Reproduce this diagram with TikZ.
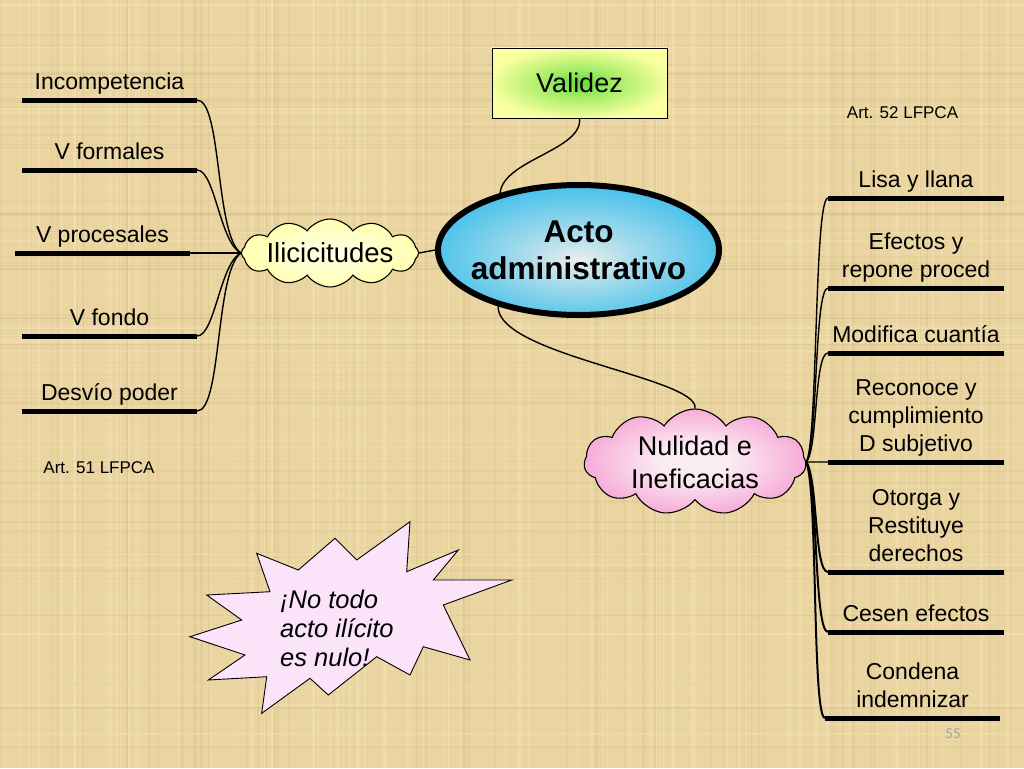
\documentclass[tikz,border=0pt]{standalone}
\usepackage{fontspec}
\setmainfont{Liberation Sans}
\newfontfamily\pagefont{Carlito}
\usetikzlibrary{shapes.geometric,shapes.symbols}
\definecolor{paper}{RGB}{234,212,160}
\definecolor{paperlight}{RGB}{248,232,190}
\definecolor{paperdark}{RGB}{200,175,120}
\definecolor{cyanout}{RGB}{40,185,235}
\definecolor{cyanin}{RGB}{236,238,236}
\definecolor{yelout}{RGB}{255,255,175}
\definecolor{yelin}{RGB}{255,255,235}
\definecolor{valyel}{RGB}{250,255,160}
\definecolor{valgreen}{RGB}{95,222,55}
\definecolor{pinkout}{RGB}{245,145,205}
\definecolor{pinkin}{RGB}{250,236,242}
\definecolor{starfill}{RGB}{251,228,250}
\definecolor{pagegray}{RGB}{160,160,160}
\pgfdeclareradialshading{valshade}{\pgfpoint{0bp}{0bp}}{color(0bp)=(valgreen); color(10bp)=(valgreen!55!valyel); color(26bp)=(valyel); color(50bp)=(valyel)}
\pgfdeclareradialshading{actoshade}{\pgfpoint{0bp}{-4bp}}{color(0bp)=(cyanin); color(10bp)=(cyanin!65!cyanout); color(32bp)=(cyanout); color(50bp)=(cyanout)}
\pgfdeclareradialshading{ilicshade}{\pgfpoint{0bp}{0bp}}{color(0bp)=(yelin); color(25bp)=(yelout); color(50bp)=(yelout)}
\pgfdeclareradialshading{nulshade}{\pgfpoint{0bp}{0bp}}{color(0bp)=(pinkin); color(8bp)=(pinkin); color(32bp)=(pinkout); color(50bp)=(pinkout)}
\tikzset{
  bar/.style={line width=5pt, line cap=butt},
  link/.style={line width=1.4pt},
  linkb/.style={line width=2pt},
  lbl/.style={anchor=south, inner sep=0pt, align=center, font=\fontsize{23}{28}\selectfont, execute at end node={\vphantom{p}}},
  art/.style={anchor=base, inner sep=0pt, font=\fontsize{17}{20}\selectfont},
}
\begin{document}
\begin{tikzpicture}[x=1pt,y=-1pt]
\fill[paper] (0,0) rectangle (1024,768);
\useasboundingbox (0,0) rectangle (1024,768);
% papyrus texture
\pgfmathsetseed{7}
\foreach \i in {1,...,90} {
  \pgfmathsetmacro\xx{rnd*1024}\pgfmathsetmacro\ww{0.5+rnd*2.5}
  \draw[paperlight, opacity=0.35, line width=\ww pt] (\xx,0) -- (\xx,768);
}
\foreach \i in {1,...,60} {
  \pgfmathsetmacro\xx{rnd*1024}\pgfmathsetmacro\ww{0.5+rnd*2}
  \draw[paperdark, opacity=0.18, line width=\ww pt] (\xx,0) -- (\xx,768);
}
\foreach \i in {1,...,70} {
  \pgfmathsetmacro\yy{rnd*768}\pgfmathsetmacro\ww{0.5+rnd*2}
  \draw[paperdark, opacity=0.15, line width=\ww pt] (0,\yy) -- (1024,\yy);
}
\foreach \i in {1,...,50} {
  \pgfmathsetmacro\yy{rnd*768}\pgfmathsetmacro\ww{0.5+rnd*2}
  \draw[paperlight, opacity=0.3, line width=\ww pt] (0,\yy) -- (1024,\yy);
}

% central nodes
\node[draw, line width=0.9pt, shading=valshade, minimum width=175pt, minimum height=70pt, inner sep=0pt,
      font=\fontsize{27}{30}\selectfont] (val) at (579.5,83) {Validez};
\node[ellipse, draw, line width=6pt, shading=actoshade, minimum width=281pt, minimum height=130pt, inner xsep=-9pt, inner ysep=0pt,
      align=center, font=\bfseries\fontsize{31.5}{37}\selectfont] (acto) at (578.5,250) {Acto\\administrativo};
\node[cloud, draw, line width=1.1pt, shading=ilicshade, cloud puffs=12, cloud puff arc=110, cloud ignores aspect,
      minimum width=176pt, minimum height=68pt, inner sep=0pt,
      font=\fontsize{27.5}{30}\selectfont] (ilic) at (330,253) {Ilicicitudes};
\node[cloud, draw, line width=1.1pt, shading=nulshade, cloud puffs=11, cloud puff arc=115, cloud ignores aspect,
      minimum width=222pt, minimum height=106pt, inner sep=0pt,
      align=center, font=\fontsize{27}{33}\selectfont] (nul) at (695,462) {Nulidad e\\Ineficacias};

\draw[link] (val.south) .. controls (583,150) and (503,160) .. (acto.144);
\draw[link] (acto.215) .. controls (497,355) and (700,378) .. (nul.north);
\draw[link] (ilic.east) -- (acto.west);

% left branches
\coordinate (incL) at (22,100);  \coordinate (incR) at (197,100);
\coordinate (vforL) at (22,170); \coordinate (vforR) at (197,170);
\coordinate (vproL) at (15,253); \coordinate (vproR) at (190,253);
\coordinate (vfonL) at (22,336); \coordinate (vfonR) at (197,336);
\coordinate (desvL) at (22,411); \coordinate (desvR) at (197,411);
\foreach \b in {inc,vfor,vpro,vfon,desv} {\draw[bar] (\b L) -- (\b R);}
\node[lbl] (tinc) at (109.5,94.8) {Incompetencia};
\node[lbl] (tvfor) at (109.5,164.8) {V formales};
\node[lbl] (tvpro) at (102.5,247.8) {V procesales};
\node[lbl] (tvfon) at (109.5,330.8) {V fondo};
\node[lbl] (tdesv) at (109.5,405.8) {Desvío poder};
\draw[link] (incR) .. controls (222,100) and (215,235) .. (ilic.west);
\draw[link] (vforR) .. controls (215,170) and (220,243) .. (ilic.west);
\draw[link] (vproR) -- (ilic.west);
\draw[link] (vfonR) .. controls (215,336) and (220,263) .. (ilic.west);
\draw[link] (desvR) .. controls (222,411) and (215,272) .. (ilic.west);
\node[art] (art51) at (99,473) {Art. 51 LFPCA};

% right branches
\coordinate (lisaL) at (828,198); \coordinate (lisaR) at (1004,198);
\coordinate (efecL) at (828,288); \coordinate (efecR) at (1004,288);
\coordinate (modiL) at (828,353); \coordinate (modiR) at (1004,353);
\coordinate (recoL) at (828,462); \coordinate (recoR) at (1004,462);
\coordinate (otorL) at (828,572); \coordinate (otorR) at (1004,572);
\coordinate (ceseL) at (828,632); \coordinate (ceseR) at (1004,632);
\coordinate (condL) at (825,718); \coordinate (condR) at (1000,718);
\foreach \b in {lisa,efec,modi,reco,otor,cese,cond} {\draw[bar] (\b L) -- (\b R);}
\node[lbl] (tlisa) at (916,192.8) {Lisa y llana};
\node[lbl] (tefec) at (916,282.8) {Efectos y\\repone proced};
\node[lbl] (tmodi) at (916,347.8) {Modifica cuantía};
\node[lbl] (treco) at (916,456.8) {Reconoce y\\cumplimiento\\D subjetivo};
\node[lbl] (totor) at (916,566.8) {Otorga y\\Restituye\\derechos};
\node[lbl] (tcese) at (916,626.8) {Cesen efectos};
\node[lbl] (tcond) at (912.5,712.8) {Condena\\indemnizar};
\draw[link] (nul.east) .. controls (818,440) and (814,198) .. (lisaL);
\draw[link] (nul.east) .. controls (818,445) and (814,288) .. (efecL);
\draw[link] (nul.east) .. controls (818,450) and (814,353) .. (modiL);
\draw[link] (nul.east) -- (recoL);
\draw[linkb] (nul.east) .. controls (818,480) and (814,572) .. (otorL);
\draw[linkb] (nul.east) .. controls (818,485) and (814,632) .. (ceseL);
\draw[linkb] (nul.east) .. controls (818,490) and (812,718) .. (condL);
\node[art] (art52) at (902.5,118) {Art. 52 LFPCA};

% starburst note
\draw[line width=0.9pt, fill=starfill, line join=miter]
  (256.7,553.3) -- (298.3,570) -- (335,538.3) -- (356.7,560) -- (410,521.7) -- (406.7,571.7)
  -- (458.3,550) -- (433.3,580) -- (511.7,580) -- (443.3,605) -- (470,660) -- (423.3,646.7)
  -- (410,675) -- (376.7,656.7) -- (328.3,695) -- (310,678.3) -- (261.7,713.3) -- (266.7,676.7)
  -- (208.3,680) -- (245,655) -- (190,636.7) -- (241.7,620) -- (206.7,595) -- (270,591.7) -- cycle;
\node[anchor=north west, inner sep=0pt, align=left, font=\itshape\fontsize{25.5}{29}\selectfont] (nota) at (280,590) {¡No todo\\acto ilícito\\es nulo!};

\node[anchor=base, inner sep=0pt, text=pagegray, font=\pagefont\fontsize{15}{18}\selectfont] (pnum) at (953,738) {55};
\end{tikzpicture}
\end{document}
